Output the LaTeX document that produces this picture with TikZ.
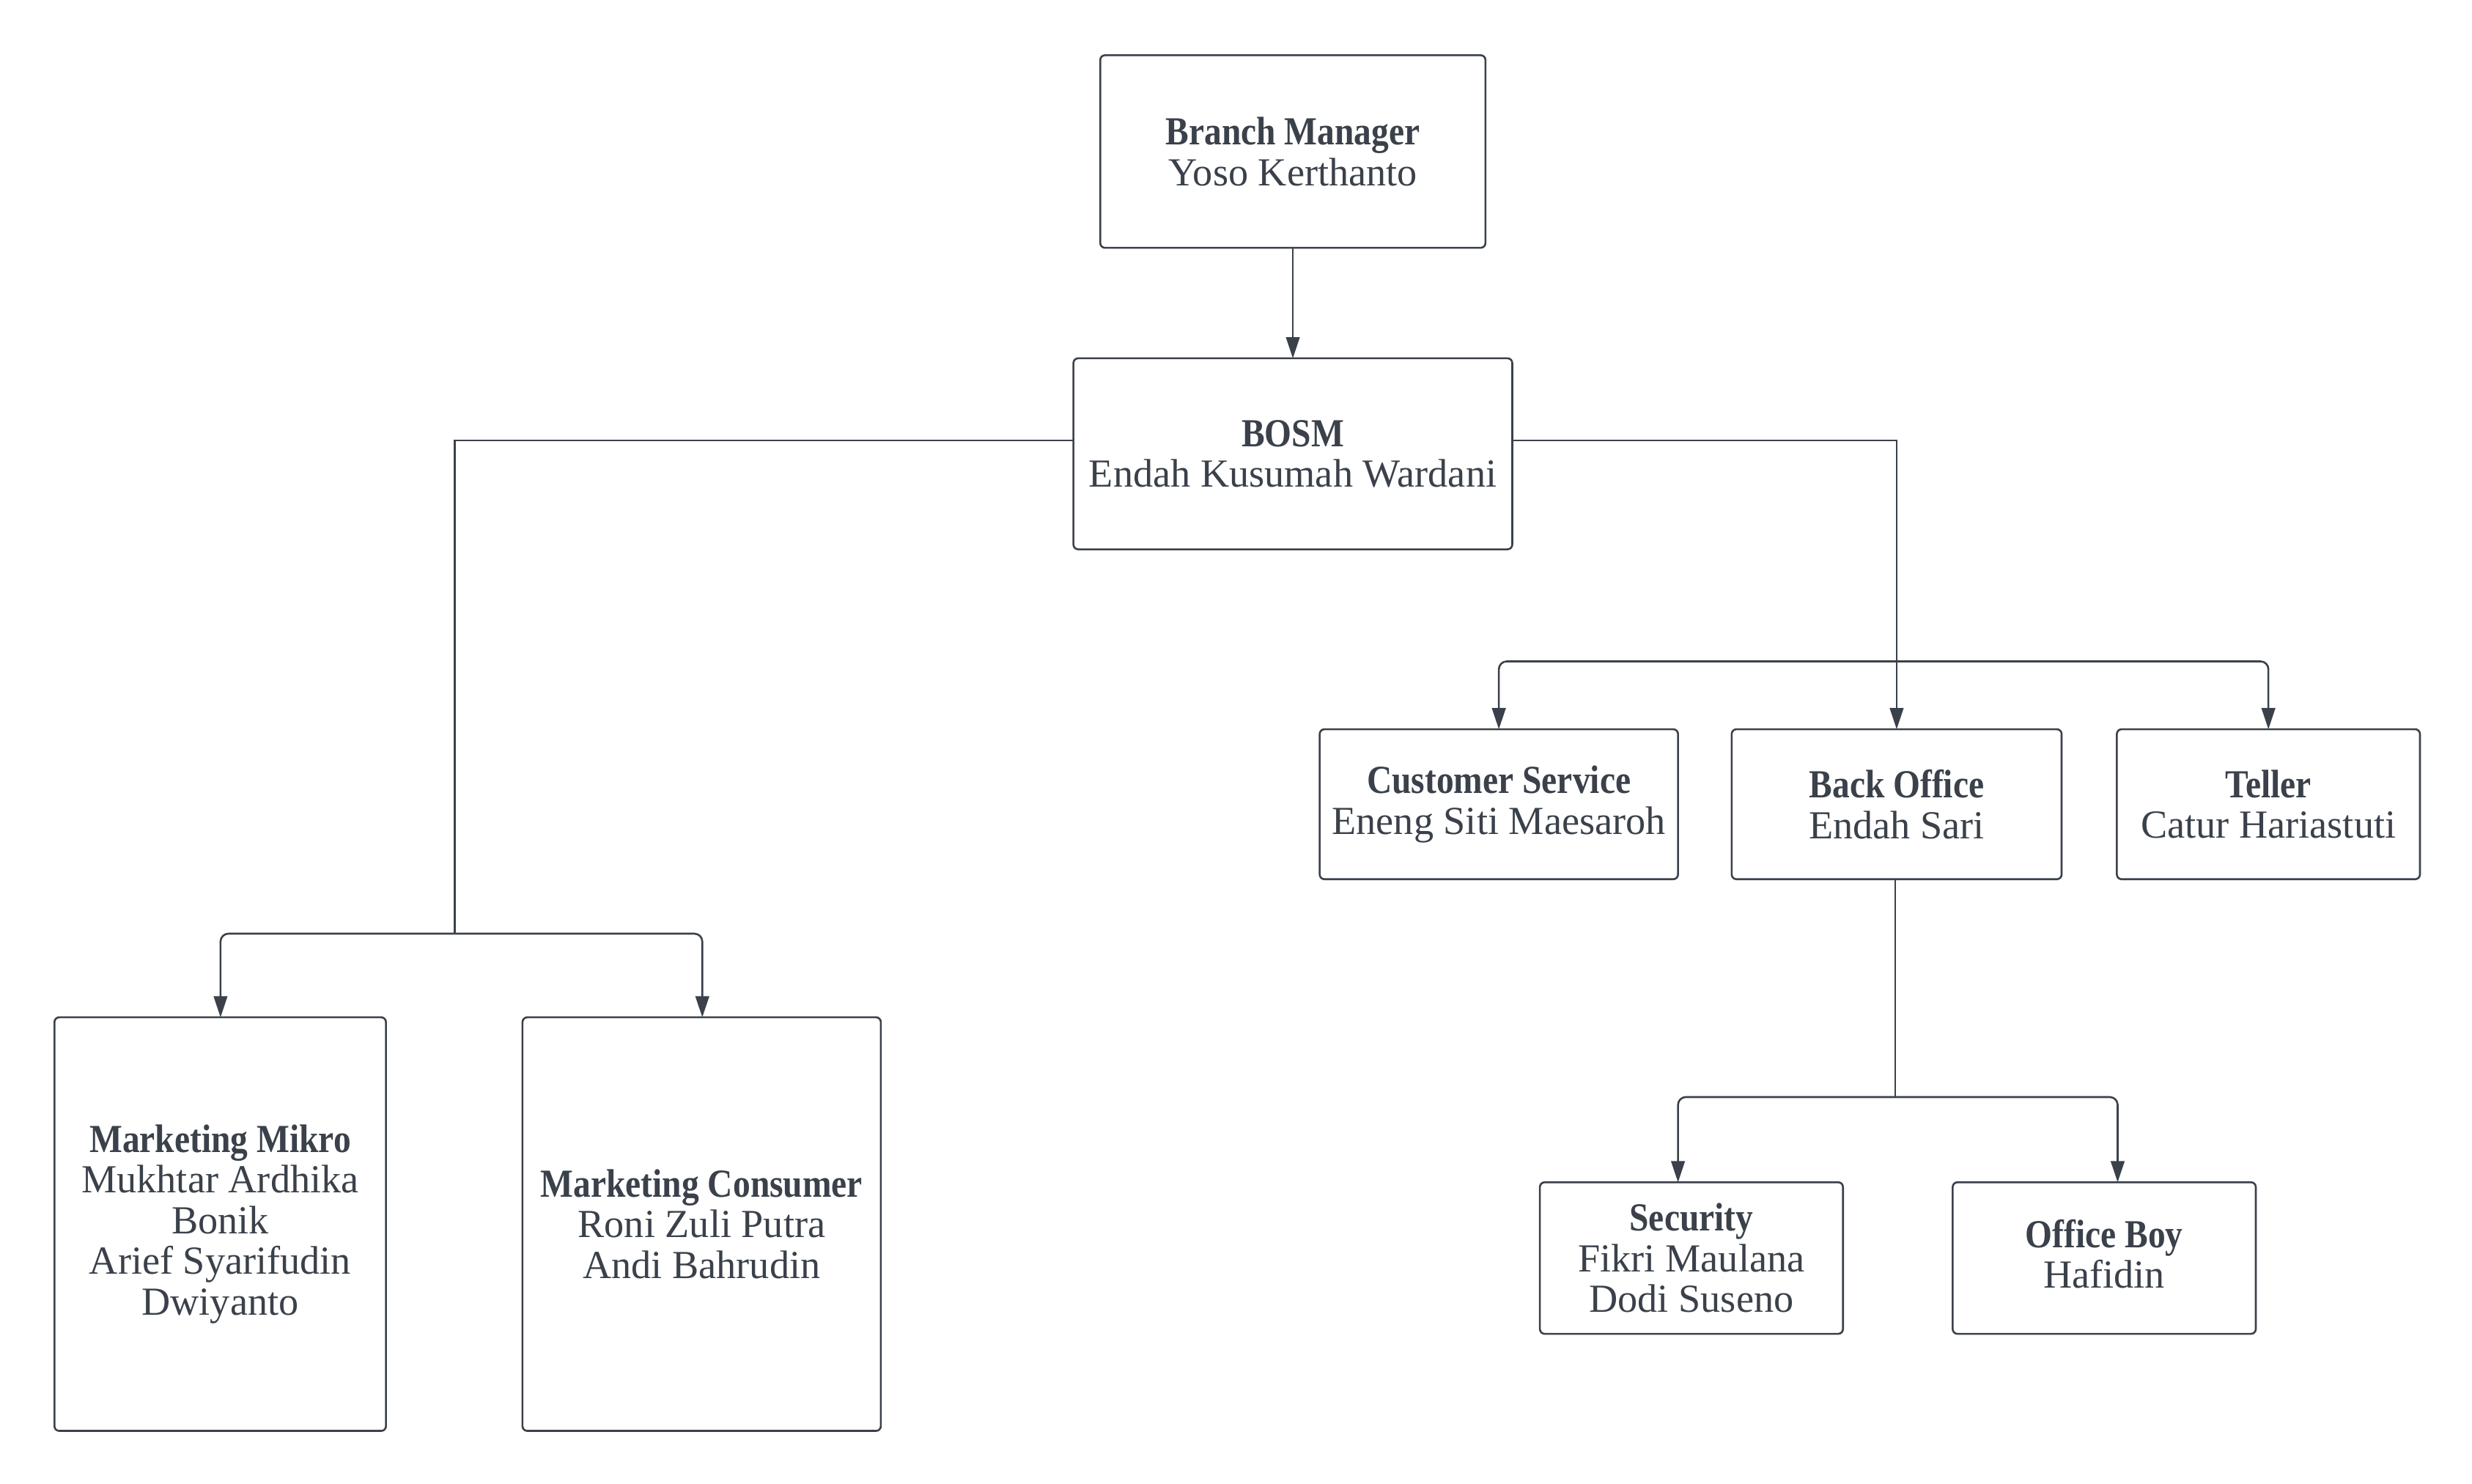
\documentclass[tikz,border=0pt]{standalone}
\usepackage{fontspec}
\setmainfont{Liberation Serif}[BoldFeatures={FakeStretch=0.875}]
\usetikzlibrary{arrows.meta}
\definecolor{ink}{RGB}{58,65,74}
\begin{document}
\begin{tikzpicture}[x=0.5pt,y=-0.5pt,
  box/.style={draw=ink, line width=0.6pt, rounded corners=1.5pt, inner sep=0pt, outer sep=0pt,
    align=center, text=ink, font=\fontsize{12.6pt}{12.9pt}\selectfont},
  conn/.style={draw=ink, line width=0.6pt},
  arr/.style={conn, rounded corners=2.5pt, -{Triangle[length=6.7pt,width=4.3pt]}}]
\useasboundingbox (0,0) rectangle (1566,940);
\fill[white] (0,0) rectangle (1566,940);

\node[box, minimum width=122pt, minimum height=61pt] (bm) at (819,96) {\textbf{Branch Manager}\\Yoso Kerthanto};
\node[box, minimum width=139pt, minimum height=60.5pt] (bosm) at (819,287.5) {\textbf{BOSM}\\Endah Kusumah Wardani};
\node[box, minimum width=113.5pt, minimum height=47.5pt] (cs) at (949.5,509.5) {\textbf{Customer Service}\\Eneng Siti Maesaroh};
\node[box, minimum width=104.5pt, minimum height=47.5pt] (bo) at (1201.5,509.5) {\textbf{Back Office}\\Endah Sari};
\node[box, minimum width=96pt, minimum height=47.5pt] (tel) at (1437,509.5) {\textbf{Teller}\\Catur Hariastuti};
\node[box, minimum width=105pt, minimum height=131pt] (mm) at (139.5,775.5) {\textbf{Marketing Mikro}\\Mukhtar Ardhika\\Bonik\\Arief Syarifudin\\Dwiyanto};
\node[box, minimum width=113.5pt, minimum height=131pt] (mc) at (444.5,775.5) {\textbf{Marketing Consumer}\\Roni Zuli Putra\\Andi Bahrudin};
\node[box, minimum width=96pt, minimum height=48pt] (sec) at (1071.5,797) {\textbf{Security}\\Fikri Maulana\\Dodi Suseno};
\node[box, minimum width=96pt, minimum height=48pt, text depth=2.6pt] (ob) at (1333,797) {\textbf{Office Boy}\\Hafidin};

\draw[arr, rounded corners=0pt] (bm.south) -- (bosm.north);

% left branch
\coordinate (lj) at (288,591.5);
\draw[conn] ([yshift=4.25pt]bosm.west) -| (lj);
\draw[arr] (lj) -| ([xshift=0.1pt]mm.north);
\draw[arr] (lj) -| ([xshift=0.2pt]mc.north);

% right branch
\coordinate (rj) at (1201,419);
\draw[arr, rounded corners=0pt] ([yshift=4.25pt]bosm.east) -| (bo.north);
\draw[arr] (rj) -| (cs.north);
\draw[arr] (rj) -| (tel.north);

% back office branch
\coordinate (bj) at (1200.5,695);
\draw[conn] ([xshift=-0.5pt]bo.south) -- (bj);
\draw[arr] (bj) -| ([xshift=-4.25pt]sec.north);
\draw[arr] (bj) -| ([xshift=4.25pt]ob.north);
\end{tikzpicture}
\end{document}
